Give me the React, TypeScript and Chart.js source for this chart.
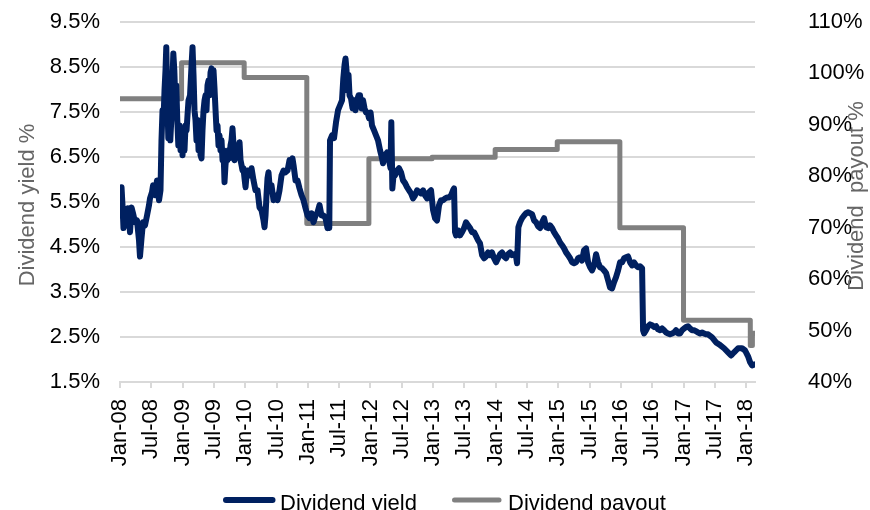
import React, { useEffect, useRef } from 'react';
import { Chart, registerables } from 'chart.js';

Chart.register(...registerables);

const FONT = '"Liberation Sans", Arial, Helvetica, sans-serif';

// Half-yearly labels on a month axis (month 0 = Jan 2008)
const dateTickLabels = [
  'Jan-08', 'Jul-08', 'Jan-09', 'Jul-09', 'Jan-10', 'Jul-10', 'Jan-11',
  'Jul-11', 'Jan-12', 'Jul-12', 'Jan-13', 'Jul-13', 'Jan-14', 'Jul-14',
  'Jan-15', 'Jul-15', 'Jan-16', 'Jul-16', 'Jan-17', 'Jul-17', 'Jan-18',
];
const monthsPerLabel = 6;
const lastMonth = 121.7;

const yieldTicks = [1.5, 2.5, 3.5, 4.5, 5.5, 6.5, 7.5, 8.5, 9.5];
const payoutTicks = [40, 50, 60, 70, 80, 90, 100, 110];

// Dividend yield, % — [months since Jan 2008, value]
const yield2008: [number, number][] = [
  [0.10, 5.20], [0.29, 5.83], [0.48, 5.43], [0.67, 4.92], [0.96, 5.27], [1.34, 4.98],
  [1.53, 5.36], [1.92, 4.83], [2.21, 5.38], [2.49, 5.25], [2.88, 5.05], [3.26, 5.09],
  [3.64, 4.65], [3.83, 4.29], [4.12, 4.69], [4.41, 5.05], [4.79, 4.98], [5.18, 5.20],
  [5.56, 5.43], [5.75, 5.58], [6.13, 5.72], [6.33, 5.87], [6.71, 5.65], [7.09, 5.98],
  [7.48, 5.54], [7.76, 5.76], [7.95, 6.87], [8.15, 7.54], [8.34, 7.32], [8.53, 7.98],
  [8.72, 8.43], [8.87, 8.94], [9.07, 7.76], [9.26, 6.92], [9.45, 7.43], [9.64, 6.87],
  [9.83, 7.32], [10.02, 8.09], [10.22, 8.80], [10.41, 8.43], [10.60, 7.76], [10.79, 8.09],
  [10.98, 7.32], [11.18, 6.76], [11.41, 7.20], [11.60, 6.65], [11.79, 7.09], [11.98, 6.54],
];
const yield2009: [number, number][] = [
  [12.17, 6.87], [12.36, 6.65], [12.56, 7.20], [12.75, 7.09], [12.94, 7.43], [13.13, 7.76],
  [13.42, 7.87], [13.71, 8.54], [13.90, 8.94], [14.09, 8.32], [14.28, 7.54], [14.47, 7.32],
  [14.66, 6.87], [14.86, 7.32], [15.05, 6.65], [15.24, 6.98], [15.43, 6.54], [15.62, 6.47],
  [15.81, 7.09], [16.01, 7.54], [16.20, 7.76], [16.39, 7.87], [16.58, 7.54], [16.77, 8.09],
  [16.96, 8.20], [17.16, 7.87], [17.35, 8.38], [17.54, 8.47], [17.73, 8.20], [17.92, 8.43],
  [18.11, 8.03], [18.31, 7.54], [18.50, 7.09], [18.69, 7.20], [18.88, 6.76], [19.07, 6.98],
  [19.26, 6.65], [19.46, 6.87], [19.65, 6.43], [19.84, 6.65], [20.03, 5.94], [20.22, 6.32],
  [20.41, 6.54], [20.61, 6.43], [20.80, 6.65], [20.99, 6.47], [21.18, 6.76], [21.37, 6.87],
  [21.56, 7.14], [21.76, 6.76], [21.95, 6.43], [22.14, 6.65], [22.33, 6.54], [22.52, 6.76],
  [22.71, 6.65], [22.91, 6.83], [23.10, 6.43], [23.29, 6.32], [23.48, 6.20], [23.67, 6.25],
  [23.86, 6.03],
];
const yield2010: [number, number][] = [
  [24.06, 5.83], [24.25, 6.09], [24.44, 6.20], [24.82, 6.09], [25.21, 6.25], [25.59, 5.98],
  [25.97, 5.76], [26.36, 5.76], [26.74, 5.38], [27.12, 5.32], [27.51, 5.09], [27.70, 4.94],
  [27.89, 5.20], [28.08, 5.65], [28.27, 6.03], [28.46, 6.16], [28.66, 5.87], [29.04, 5.87],
  [29.42, 5.54], [29.81, 5.65], [30.19, 5.54], [30.57, 5.76], [30.96, 6.09], [31.34, 6.20],
  [31.72, 6.16], [32.11, 6.20], [32.49, 6.43], [32.87, 6.38], [33.06, 6.47], [33.26, 6.32],
  [33.64, 5.98], [34.02, 5.98], [34.41, 5.80], [34.79, 5.65], [35.17, 5.54], [35.56, 5.36],
  [35.94, 5.20],
];
const yield2011: [number, number][] = [
  [36.32, 5.14], [36.71, 5.25], [37.09, 5.05], [37.47, 5.20], [37.86, 5.27], [38.24, 5.43],
  [38.62, 5.20], [39.01, 5.20], [39.39, 5.14], [39.77, 4.92], [39.97, 5.05], [40.11, 4.92],
  [40.25, 6.87], [40.64, 6.98], [41.02, 6.92], [41.40, 7.27], [41.79, 7.54], [42.17, 7.65],
  [42.55, 7.76], [42.80, 8.25], [43.03, 8.54], [43.22, 8.69], [43.41, 8.43], [43.61, 7.98],
  [43.80, 8.32], [43.99, 7.87], [44.28, 7.80], [44.57, 7.58], [44.85, 7.76], [45.14, 7.54],
  [45.43, 7.76], [45.72, 7.87], [46.00, 7.87], [46.29, 7.58], [46.58, 7.76], [46.87, 7.58],
  [47.15, 7.49], [47.44, 7.49], [47.73, 7.36],
];
const yield2012: [number, number][] = [
  [48.02, 7.49], [48.30, 7.20], [48.69, 7.09], [49.07, 6.98], [49.45, 6.87], [49.84, 6.65],
  [50.22, 6.47], [50.41, 6.36], [50.80, 6.54], [51.18, 6.60], [51.56, 6.43], [51.85, 6.25],
  [52.00, 7.27], [52.20, 5.80], [52.42, 6.09], [52.71, 6.09], [53.10, 6.20], [53.48, 6.25],
  [53.86, 6.16], [54.25, 5.98], [54.63, 5.92], [55.01, 5.83], [55.40, 5.76], [55.78, 5.69],
  [56.16, 5.58], [56.55, 5.65], [56.93, 5.76], [57.31, 5.72], [57.70, 5.69], [58.08, 5.76],
  [58.46, 5.65], [58.85, 5.58], [59.23, 5.72], [59.61, 5.76],
];
const yield2013: [number, number][] = [
  [60.00, 5.32], [60.38, 5.14], [60.76, 5.09], [61.15, 5.43], [61.53, 5.54], [61.91, 5.54],
  [62.30, 5.58], [62.68, 5.60], [63.06, 5.60], [63.45, 5.65], [63.83, 5.76], [64.02, 5.80],
  [64.21, 4.83], [64.40, 4.76], [64.79, 4.87], [65.17, 4.76], [65.55, 4.83], [65.94, 4.92],
  [66.32, 5.05], [66.70, 4.98], [67.09, 4.92], [67.47, 4.83], [67.85, 4.83], [68.24, 4.74],
  [68.62, 4.65], [69.00, 4.58], [69.39, 4.32], [69.77, 4.25], [70.15, 4.29], [70.54, 4.38],
  [70.92, 4.32], [71.30, 4.38], [71.69, 4.25],
];
const yield2014: [number, number][] = [
  [72.07, 4.16], [72.46, 4.25], [72.84, 4.34], [73.22, 4.38], [73.61, 4.29], [73.99, 4.25],
  [74.37, 4.34], [74.76, 4.38], [75.14, 4.32], [75.52, 4.34], [75.91, 4.29], [76.10, 4.14],
  [76.35, 4.94], [76.67, 5.05], [77.05, 5.14], [77.44, 5.20], [77.82, 5.25], [78.20, 5.27],
  [78.59, 5.25], [78.97, 5.23], [79.36, 5.09], [79.74, 5.05], [80.12, 4.96], [80.51, 4.92],
  [80.89, 5.05], [81.27, 5.14], [81.66, 4.94], [82.04, 4.92], [82.42, 4.98], [82.81, 4.92],
  [83.19, 4.83], [83.57, 4.76],
];
const yield2015: [number, number][] = [
  [83.96, 4.69], [84.34, 4.60], [84.72, 4.54], [85.11, 4.47], [85.49, 4.38], [85.87, 4.32],
  [86.26, 4.25], [86.64, 4.16], [87.02, 4.14], [87.41, 4.16], [87.79, 4.25], [88.17, 4.27],
  [88.56, 4.20], [88.94, 4.43], [89.32, 4.47], [89.71, 4.16], [90.09, 4.05], [90.47, 3.98],
  [90.86, 4.09], [91.24, 4.34], [91.62, 4.16], [92.01, 4.05], [92.39, 4.03], [92.77, 3.98],
  [93.16, 3.92], [93.54, 3.76], [93.92, 3.60], [94.31, 3.58], [94.69, 3.72], [95.07, 3.83],
  [95.46, 3.98],
];
const yield2016: [number, number][] = [
  [95.84, 4.16], [96.22, 4.16], [96.61, 4.25], [96.99, 4.27], [97.37, 4.29], [97.76, 4.16],
  [98.14, 4.09], [98.52, 4.16], [98.91, 4.09], [99.29, 4.05], [99.67, 4.07], [100.06, 4.03],
  [100.25, 2.65], [100.44, 2.58], [100.82, 2.65], [101.21, 2.74], [101.59, 2.78], [101.97, 2.76],
  [102.36, 2.72], [102.74, 2.74], [103.12, 2.67], [103.51, 2.65], [103.89, 2.69], [104.27, 2.65],
  [104.66, 2.60], [105.04, 2.58], [105.42, 2.56], [105.81, 2.58], [106.19, 2.60], [106.57, 2.65],
  [106.96, 2.58], [107.34, 2.58], [107.72, 2.65],
];
const yield2017: [number, number][] = [
  [108.11, 2.69], [108.49, 2.72], [108.87, 2.74], [109.26, 2.69], [109.64, 2.65], [110.02, 2.65],
  [110.41, 2.63], [110.79, 2.60], [111.17, 2.58], [111.56, 2.60], [111.94, 2.58], [112.32, 2.56],
  [112.71, 2.56], [113.47, 2.49], [114.24, 2.38], [115.01, 2.32], [115.77, 2.25], [116.54, 2.16],
  [117.12, 2.09], [117.69, 2.16], [118.46, 2.25], [119.22, 2.25], [119.80, 2.20],
];
const yield2018: [number, number][] = [
  [120.37, 2.07], [120.76, 1.94], [121.14, 1.87], [121.62, 1.89],
];

// Dividend payout, % — level changes (month since Jan 2008, new level)
const payoutMonths = [0, 11.8, 23.8, 35.8, 47.7, 59.8, 71.9, 83.8, 95.8, 108.0, 120.8, 121.2, 121.7];
const payoutValues = [95.1, 102.1, 99.2, 70.8, 83.4, 83.7, 85.2, 86.7, 70.0, 52.0, 47.1, 49.5, 49.5];

const NAVY = '#002060';
const GREY = '#808080';
const GRID = '#d9d9d9';
const CLEAR = 'rgba(0,0,0,0)';

// Rotated axis titles (both reading bottom-to-top) and the legend row
const titlesAndLegend = {
  id: 'titlesAndLegend',
  afterDraw(chart: any) {
    const { ctx, chartArea } = chart;
    const mid = (chartArea.top + chartArea.bottom) / 2;
    const drawTitle = (text: string, x: number, y: number) => {
      ctx.save();
      ctx.fillStyle = '#666666';
      ctx.font = `22px ${FONT}`;
      ctx.textAlign = 'center';
      ctx.textBaseline = 'middle';
      ctx.translate(x, y);
      ctx.rotate(-Math.PI / 2);
      ctx.fillText(text, 0, 0);
      ctx.restore();
    };
    drawTitle('Dividend yield %', 28, mid + 3);
    drawTitle('Dividend  payout %', 857, mid - 6);

    const legendRow = [
      { from: 226, to: 272.5, textX: 280 },
      { from: 454.5, to: 499, textX: 508 },
    ];
    chart.data.datasets.forEach((ds: any, i: number) => {
      const item = legendRow[i];
      if (!item) return;
      ctx.save();
      ctx.strokeStyle = ds.borderColor;
      ctx.lineWidth = ds.borderWidth;
      ctx.lineCap = 'round';
      ctx.beginPath();
      ctx.moveTo(item.from, 500);
      ctx.lineTo(item.to, 500);
      ctx.stroke();
      ctx.fillStyle = '#000000';
      ctx.font = `22px ${FONT}`;
      ctx.textAlign = 'left';
      ctx.textBaseline = 'alphabetic';
      ctx.fillText(ds.label, item.textX, 509.5);
      ctx.restore();
    });
  },
};

export default function App() {
  const canvasRef = useRef<HTMLCanvasElement | null>(null);

  useEffect(() => {
    const canvas = canvasRef.current;
    if (!canvas) return;

    const yieldPoints = [
      ...yield2008, ...yield2009, ...yield2010, ...yield2011, ...yield2012, ...yield2013,
      ...yield2014, ...yield2015, ...yield2016, ...yield2017, ...yield2018,
    ].map(([x, y]) => ({ x, y }));
    const payoutPoints = payoutMonths.map((x, i) => ({ x, y: payoutValues[i] }));
    const labelMonths = dateTickLabels.map((_, i) => i * monthsPerLabel);

    const tickFont = { family: FONT, size: 22 };

    const chart = new Chart(canvas, {
      type: 'line',
      data: {
        datasets: [
          {
            label: 'Dividend yield',
            data: yieldPoints,
            yAxisID: 'y',
            borderColor: NAVY,
            backgroundColor: NAVY,
            borderWidth: 6,
            borderJoinStyle: 'round',
            borderCapStyle: 'round',
            pointRadius: 0,
            pointHoverRadius: 0,
            tension: 0,
            fill: false,
          },
          {
            label: 'Dividend payout',
            data: payoutPoints,
            yAxisID: 'y1',
            borderColor: GREY,
            backgroundColor: GREY,
            borderWidth: 5,
            borderJoinStyle: 'round',
            borderCapStyle: 'round',
            stepped: true,
            pointRadius: 0,
            pointHoverRadius: 0,
            fill: false,
          },
        ],
      },
      options: {
        responsive: false,
        animation: false,
        devicePixelRatio: 1,
        events: [],
        layout: { padding: { top: 22, left: 0, right: 0, bottom: 43 } },
        scales: {
          x: {
            type: 'linear',
            min: 0,
            max: lastMonth,
            afterBuildTicks: (scale: any) => {
              scale.ticks = labelMonths.map((value) => ({ value }));
            },
            afterFit: (scale: any) => {
              scale.height = 85;
            },
            ticks: {
              autoSkip: false,
              minRotation: 90,
              maxRotation: 90,
              padding: 11,
              color: '#000000',
              font: tickFont,
              callback: (_v: any, i: number) => dateTickLabels[i],
            },
            grid: {
              drawOnChartArea: false,
              drawTicks: true,
              tickLength: 6,
              color: GRID,
              lineWidth: 2,
            },
            border: { display: true, color: GRID, width: 2 },
          },
          y: {
            type: 'linear',
            position: 'left',
            min: 1.5,
            max: 9.5,
            afterBuildTicks: (scale: any) => {
              scale.ticks = yieldTicks.map((value) => ({ value }));
            },
            afterFit: (scale: any) => {
              scale.width = 120;
            },
            ticks: {
              padding: 8,
              color: '#000000',
              font: tickFont,
              callback: (v: any) => `${Number(v).toFixed(1)}%`,
            },
            grid: { color: GRID, lineWidth: 2, drawTicks: true, tickLength: 12, tickColor: CLEAR },
            border: { display: false },
          },
          y1: {
            type: 'linear',
            position: 'right',
            min: 40,
            max: 110,
            afterBuildTicks: (scale: any) => {
              scale.ticks = payoutTicks.map((value) => ({ value }));
            },
            afterFit: (scale: any) => {
              scale.width = 115;
            },
            ticks: {
              padding: 8,
              color: '#000000',
              font: tickFont,
              callback: (v: any) => `${v}%`,
            },
            grid: { display: false, drawTicks: true, tickLength: 45, tickColor: CLEAR },
            border: { display: false },
          },
        },
        plugins: {
          legend: { display: false },
          tooltip: { enabled: false },
        },
      },
      plugins: [titlesAndLegend],
    } as any);

    return () => chart.destroy();
  }, []);

  return (
    <div style={{ position: 'absolute', left: 0, top: 0, width: 870, height: 510, overflow: 'hidden', background: '#ffffff' }}>
      <canvas ref={canvasRef} width={870} height={510} style={{ display: 'block' }} />
    </div>
  );
}
